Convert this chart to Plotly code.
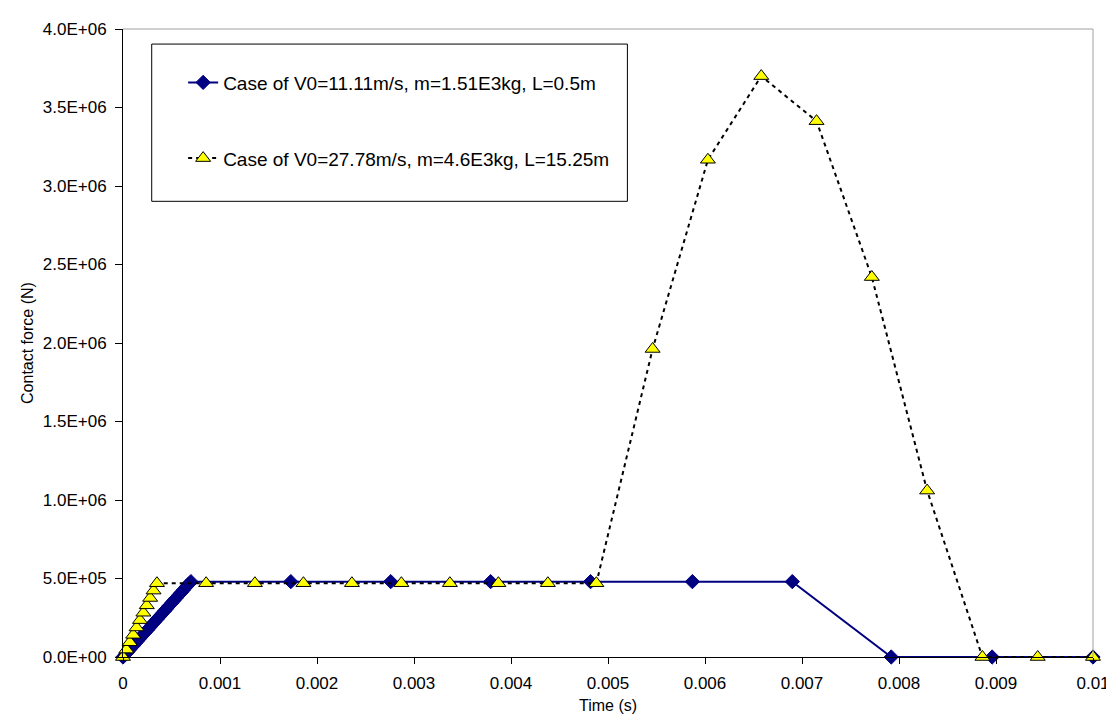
import plotly.graph_objects as go

# Case 1: V0=11.11 m/s
t1 = [0.0, 0.000025, 0.00005, 0.000075, 0.0001, 0.000125, 0.00015, 0.000175, 0.0002,
      0.000225, 0.00025, 0.000275, 0.0003, 0.000325, 0.00035, 0.000375, 0.0004,
      0.000425, 0.00045, 0.000475, 0.0005, 0.000525, 0.00055, 0.000575, 0.0006,
      0.000625, 0.00065, 0.000675, 0.0007,
      0.00173, 0.00276, 0.00379, 0.00482, 0.00587, 0.0069, 0.00792, 0.00896, 0.01]
f1 = [0.0, 17000, 34000, 51000, 68000, 86000, 103000, 120000, 137000,
      154000, 171000, 188000, 206000, 223000, 240000, 257000, 274000,
      291000, 308000, 326000, 343000, 360000, 377000, 394000, 411000,
      428000, 446000, 463000, 480000,
      480000, 480000, 480000, 480000, 480000, 480000, 0.0, 0.0, 0.0]

# Case 2: V0=27.78 m/s
t2 = [0.0, 0.000035, 0.00007, 0.000105, 0.00014, 0.000175, 0.00021, 0.000245,
      0.00028, 0.000315, 0.00035,
      0.000857, 0.00136, 0.00186, 0.00236, 0.00287, 0.00337, 0.00387, 0.00438,
      0.00488, 0.00546, 0.00603, 0.00658, 0.00715, 0.00772, 0.00829, 0.00886,
      0.00943, 0.01]
f2 = [0.0, 47000, 94000, 141000, 188000, 235000, 282000, 329000, 376000, 423000, 470000,
      470000, 470000, 470000, 470000, 470000, 470000, 470000, 470000,
      470000, 1962000, 3167000, 3700000, 3413000, 2420000, 1060000, 0.0,
      0.0, 0.0]

x_ticks = [0, 0.001, 0.002, 0.003, 0.004, 0.005, 0.006, 0.007, 0.008, 0.009, 0.01]
x_labels = ["0", "0.001", "0.002", "0.003", "0.004", "0.005", "0.006", "0.007",
            "0.008", "0.009", "0.01"]
y_ticks = [0, 5e5, 1e6, 1.5e6, 2e6, 2.5e6, 3e6, 3.5e6, 4e6]
y_labels = ["0.0E+00", "5.0E+05", "1.0E+06", "1.5E+06", "2.0E+06", "2.5E+06",
            "3.0E+06", "3.5E+06", "4.0E+06"]

x_title = "Time (s)"
y_title = "Contact force (N)"
name1 = "Case of V0=11.11m/s, m=1.51E3kg, L=0.5m"
name2 = "Case of V0=27.78m/s, m=4.6E3kg, L=15.25m"

FONT = "Liberation Sans, Arial, sans-serif"

fig = go.Figure()
fig.add_trace(go.Scatter(
    x=t1, y=f1, name=name1, mode="lines+markers", legendgroup="a",
    line=dict(color="#000080", width=2),
    marker=dict(symbol="diamond", size=11, color="#000080",
                line=dict(color="#000080", width=1)),
    cliponaxis=False,
))
fig.add_trace(go.Scatter(
    x=t2, y=f2, name=name2, mode="lines+markers", legendgroup="b",
    line=dict(color="black", width=2, dash="4px,4px"),
    marker=dict(symbol="triangle-up", size=13, color="#FFFF00",
                line=dict(color="black", width=1)),
    cliponaxis=False,
))

fig.update_layout(
    width=1114, height=717,
    margin=dict(l=115, r=19, t=15, b=68),
    paper_bgcolor="white", plot_bgcolor="white",
    font=dict(family=FONT, color="black", size=16),
    showlegend=True,
    legend=dict(
        x=0.062, y=0.945, xanchor="left", yanchor="top",
        bgcolor="rgba(0,0,0,0)", borderwidth=0,
        font=dict(size=19, family=FONT),
        traceorder="grouped", tracegroupgap=48,
    ),
    xaxis=dict(
        range=[0, 0.01], tickvals=x_ticks, ticktext=x_labels,
        showgrid=False, zeroline=False,
        showline=True, linecolor="black", linewidth=1,
        ticks="outside", ticklen=6, tickcolor="black",
        ticklabelstandoff=5,
        tickfont=dict(size=17),
    ),
    yaxis=dict(
        range=[0, 4e6], tickvals=y_ticks, ticktext=y_labels,
        showgrid=False, zeroline=False,
        showline=True, linecolor="black", linewidth=1,
        ticks="outside", ticklen=7, tickcolor="black",
        ticklabelstandoff=5,
        tickfont=dict(size=17),
    ),
    annotations=[
        dict(text=x_title, xref="paper", yref="paper", x=0.5, y=-0.078,
             xanchor="center", yanchor="middle", showarrow=False,
             font=dict(size=16, family=FONT)),
        dict(text=y_title, xref="paper", yref="paper", x=-0.099, y=0.5,
             xanchor="center", yanchor="middle", showarrow=False, textangle=-90,
             font=dict(size=16, family=FONT)),
    ],
    shapes=[
        dict(type="line", xref="paper", yref="paper", x0=0, x1=1, y0=1, y1=1,
             line=dict(color="#a0a0a0", width=1)),
        dict(type="line", xref="paper", yref="paper", x0=1, x1=1, y0=0, y1=1,
             line=dict(color="#a0a0a0", width=1)),
        dict(type="rect", xref="paper", yref="paper", x0=0.0296, x1=0.52,
             y0=0.7256, y1=0.976, fillcolor="white",
             line=dict(color="black", width=1), layer="above"),
    ],
)

fig.write_html("out.html")
